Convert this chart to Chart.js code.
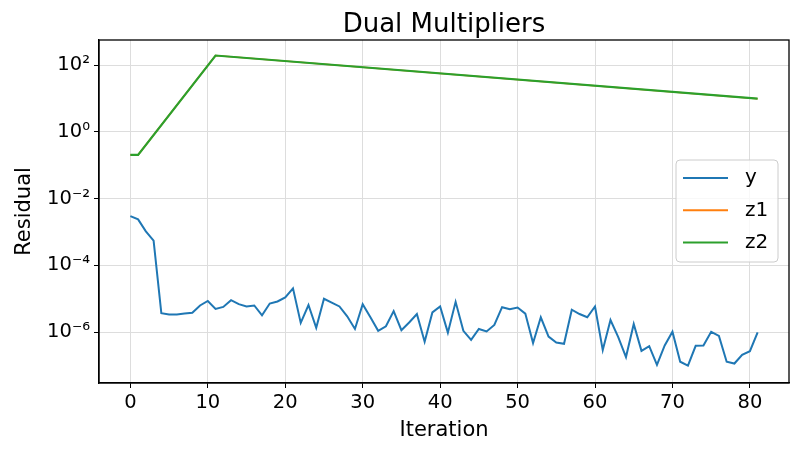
<!DOCTYPE html>
<html>
<head>
<meta charset="utf-8">
<title>Dual Multipliers</title>
<script src="https://cdn.jsdelivr.net/npm/chart.js@4.4.1/dist/chart.umd.min.js"></script>
<style>
    html, body { margin: 0; padding: 0; background: #fff; }
    #wrap { width: 800px; height: 454px; }
</style>
</head>
<body>
<div id="wrap"><canvas id="chart" width="800" height="454"></canvas></div>
<script>
// residual of the y multiplier, one value per iteration (0..81)
const yResidual = [
    3.0e-3, 2.4e-3, 1.05e-3, 5.5e-4, 3.7e-6, 3.4e-6, 3.4e-6, 3.6e-6, 3.8e-6, 6.3e-6,
    8.6e-6, 5.0e-6, 5.7e-6, 9.1e-6, 6.9e-6, 5.9e-6, 6.3e-6, 3.2e-6, 7.2e-6, 8.3e-6,
    1.1e-5, 2.05e-5, 1.9e-6, 6.5e-6, 1.35e-6, 1.0e-5, 7.7e-6, 5.9e-6, 3.0e-6, 1.25e-6,
    6.9e-6, 2.8e-6, 1.1e-6, 1.5e-6, 4.3e-6, 1.15e-6, 1.95e-6, 3.5e-6, 5.2e-7, 3.9e-6,
    5.9e-6, 9.7e-7, 8.1e-6, 1.1e-6, 5.9e-7, 1.25e-6, 1.05e-6, 1.65e-6, 5.6e-6, 4.9e-6,
    5.5e-6, 3.6e-6, 4.7e-7, 2.8e-6, 7.4e-7, 4.9e-7, 4.5e-7, 4.7e-6, 3.5e-6, 2.8e-6,
    5.9e-6, 2.9e-7, 2.3e-6, 7.1e-7, 1.8e-7, 1.75e-6, 2.75e-7, 3.8e-7, 1.05e-7, 4.0e-7,
    1.03e-6, 1.3e-7, 1.0e-7, 3.9e-7, 4.0e-7, 1.03e-6, 7.7e-7, 1.3e-7, 1.15e-7, 2.1e-7,
    2.7e-7, 9.8e-7
];

// z1 and z2 coincide (z2 is drawn over z1); breakpoints
const zIterations = [0, 1, 11, 81];
const z1Residual = [0.206, 0.206, 195, 9.9];
const z2Residual = [0.206, 0.206, 195, 9.9];

const xTicks = [0, 10, 20, 30, 40, 50, 60, 70, 80];
const yTicks = [1e-6, 1e-4, 1e-2, 1, 1e2];
const yTickLabels = ['10\u207B\u2076', '10\u207B\u2074', '10\u207B\u00B2', '10\u2070', '10\u00B2'];

const seriesNames = ['y', 'z1', 'z2'];
const seriesColors = ['#1f77b4', '#ff7f0e', '#2ca02c'];

const FONT = '"DejaVu Sans", "Liberation Sans", sans-serif';

document.addEventListener('DOMContentLoaded', () => {
    drawChart();
});

// box frame, title and legend in matplotlib style
const framePlugin = {
    id: 'frame',
    afterDraw(chart) {
        const ctx = chart.ctx;
        const a = chart.chartArea;
        ctx.save();

        ctx.strokeStyle = '#000';
        ctx.lineWidth = 1.3;
        ctx.strokeRect(a.left, a.top, a.right - a.left, a.bottom - a.top);

        ctx.fillStyle = '#000';
        ctx.font = '26px ' + FONT;
        ctx.textAlign = 'center';
        ctx.textBaseline = 'alphabetic';
        ctx.fillText('Dual Multipliers', (a.left + a.right) / 2, 31.5);

        // legend
        const bx = a.right - 113, by = a.top + 120, bw = 102, bh = 102;
        ctx.beginPath();
        ctx.roundRect(bx, by, bw, bh, 4);
        ctx.fillStyle = 'rgba(255,255,255,0.8)';
        ctx.fill();
        ctx.strokeStyle = '#cccccc';
        ctx.lineWidth = 1;
        ctx.stroke();

        ctx.font = '20px ' + FONT;
        ctx.textAlign = 'left';
        ctx.textBaseline = 'middle';
        seriesNames.forEach((name, i) => {
            const ly = by + 18 + i * 32.3;
            ctx.beginPath();
            ctx.moveTo(bx + 7, ly);
            ctx.lineTo(bx + 52, ly);
            ctx.strokeStyle = seriesColors[i];
            ctx.lineWidth = 2;
            ctx.stroke();
            ctx.fillStyle = '#000';
            ctx.fillText(name, bx + 69, ly);
        });
        ctx.restore();
    }
};

function drawChart() {
    const ctx = document.getElementById('chart').getContext('2d');
    Chart.defaults.font.family = FONT;
    Chart.defaults.color = '#000';

    new Chart(ctx, {
        type: 'line',
        data: {
            datasets: [
                {
                    label: seriesNames[0],
                    data: yResidual.map((v, i) => ({ x: i, y: v })),
                    borderColor: seriesColors[0],
                    order: 3
                },
                {
                    label: seriesNames[1],
                    data: zIterations.map((it, i) => ({ x: it, y: z1Residual[i] })),
                    borderColor: seriesColors[1],
                    borderWidth: 1.6,
                    order: 2
                },
                {
                    label: seriesNames[2],
                    data: zIterations.map((it, i) => ({ x: it, y: z2Residual[i] })),
                    borderColor: seriesColors[2],
                    borderWidth: 2.2,
                    order: 1
                }
            ]
        },
        options: {
            responsive: false,
            animation: false,
            events: [],
            layout: { padding: { top: 40, right: 11, left: 0, bottom: 0 } },
            elements: {
                line: { borderWidth: 2, tension: 0, fill: false },
                point: { radius: 0 }
            },
            plugins: {
                legend: { display: false },
                title: { display: false },
                tooltip: { enabled: false }
            },
            scales: {
                x: {
                    type: 'linear',
                    min: -4.05,
                    max: 85.05,
                    afterBuildTicks: scale => {
                        scale.ticks = xTicks.map(v => ({ value: v }));
                    },
                    afterFit: scale => { scale.height = 71; },
                    border: { color: '#000', width: 1.3 },
                    grid: { color: '#dddddd', lineWidth: 1, tickColor: '#000', tickLength: 5 },
                    ticks: { font: { size: 19.5 }, padding: 3, maxRotation: 0 },
                    title: { display: true, text: 'Iteration', font: { size: 21 }, padding: { top: 0, bottom: 11 } }
                },
                y: {
                    type: 'logarithmic',
                    min: 3.4e-8,
                    max: 569,
                    afterBuildTicks: scale => {
                        scale.ticks = yTicks.map(v => ({ value: v }));
                    },
                    afterFit: scale => { scale.width = 99; },
                    border: { color: '#000', width: 1.3 },
                    grid: { color: '#dddddd', lineWidth: 1, tickColor: '#000', tickLength: 5 },
                    ticks: {
                        font: { size: 19.5 },
                        padding: 4,
                        callback: value => {
                            const k = yTicks.indexOf(value);
                            return k >= 0 ? yTickLabels[k] : '';
                        }
                    },
                    title: { display: true, text: 'Residual', font: { size: 21 }, padding: { top: 12, bottom: 0 } }
                }
            }
        },
        plugins: [framePlugin]
    });
}
</script>
</body>
</html>
